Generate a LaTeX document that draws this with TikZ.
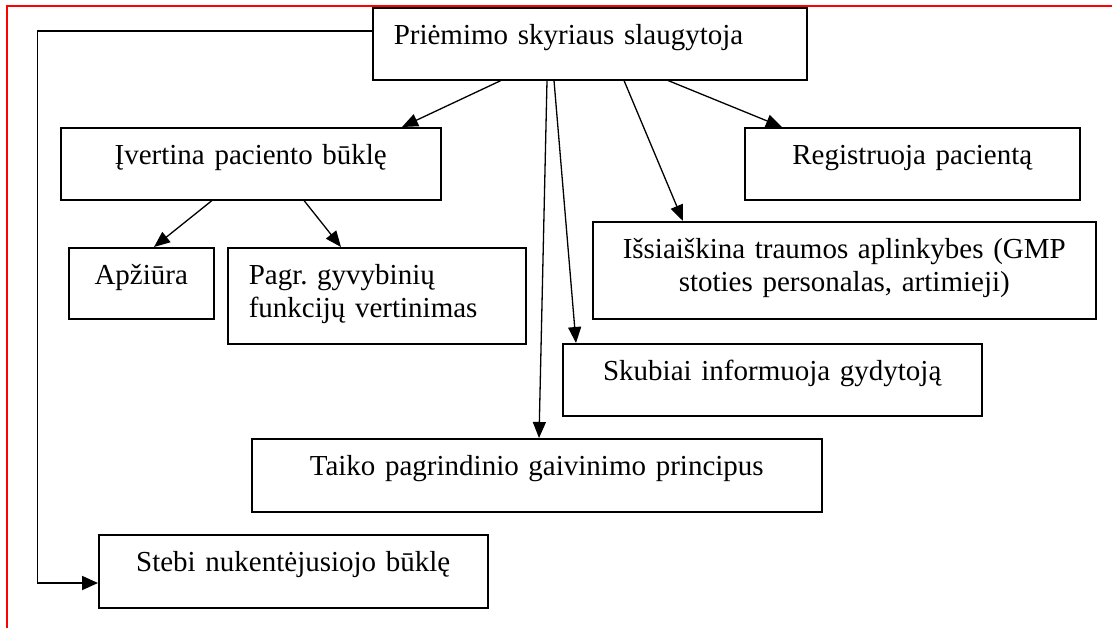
\documentclass[tikz,border=0pt]{standalone}
\usepackage{fontspec}
\setmainfont{Liberation Serif}
\usetikzlibrary{arrows.meta}
\frenchspacing

\begin{document}
\begin{tikzpicture}%
	[x=0.5pt,
	y=-0.5pt,
	font=\fontsize{14.5pt}{16.5pt}\selectfont,
	frame/.style={color=red, line width=0.6pt},
	box/.style={draw, line width=0.75pt, fill=white, anchor=north west, inner xsep=10.5pt, inner ysep=0pt, text height=18.5pt, align=center},
	arr/.style={-{Triangle[length=8pt,width=6.5pt]}, line width=0.65pt},
	looparr/.style={-{Triangle[length=8pt,width=7pt]}, line width=0.9pt}]
%
\useasboundingbox (0,0) rectangle (1112,628);
\fill[white] (0,0) rectangle (1112,628);
%% red frame
\draw[frame] (1112,6) -- (7,6) -- (7,628);
%%
%% boxes
%%
\node[box, text width=196pt, align=left, text depth=17.5pt] (nurse) at (372,7) {Priėmimo skyriaus slaugytoja};
\node[box, text width=169pt, text depth=17.5pt] (assess) at (60,127) {Įvertina paciento būklę};
\node[box, text width=146.5pt, text depth=17.5pt] (register) at (744,127) {Registruoja pacientą};
\node[box, text width=51.5pt, text depth=17pt] (inspect) at (68,247) {Apžiūra};
\node[box, text width=128pt, align=left, text depth=29.5pt] (vital) at (227,247) {Pagr. gyvybinių\\funkcijų vertinimas};
\node[box, text width=230.5pt, text depth=30pt] (clarify) at (592,221) {Išsiaiškina traumos aplinkybes (GMP\\stoties personalas, artimieji)};
\node[box, text width=188.5pt, text depth=17.5pt] (inform) at (562,343) {Skubiai informuoja gydytoją};
\node[box, text width=264pt, text depth=18pt] (revive) at (251,438) {Taiko pagrindinio gaivinimo principus};
\node[box, text width=173.5pt, text depth=18pt] (observe) at (98,534) {Stebi nukentėjusiojo būklę};
%%
%% arrows
%%
\draw[arr] ([xshift=64.5pt]nurse.south west) -- ([xshift=171pt]assess.north west);
\draw[arr] ([xshift=148pt]nurse.south west) -- ([xshift=19pt]register.north west);
\draw[arr] ([xshift=126pt]nurse.south west) -- ([xshift=45.5pt]clarify.north west);
\draw[arr] ([xshift=91pt]nurse.south west) -- ([xshift=7pt]inform.north west);
\draw[arr] ([xshift=87.5pt]nurse.south west) -- ([xshift=144pt]revive.north west);
\draw[arr] ([xshift=76pt]assess.south west) -- ([xshift=43pt]inspect.north west);
\draw[arr] ([xshift=122pt]assess.south west) -- ([xshift=57pt]vital.north west);
%% loop on the left
\coordinate (bend) at (37.5,583);
\draw[looparr] ([yshift=-12pt]nurse.north west) -| (bend) -- ([yshift=-24.5pt]observe.north west);
\end{tikzpicture}
\end{document}
